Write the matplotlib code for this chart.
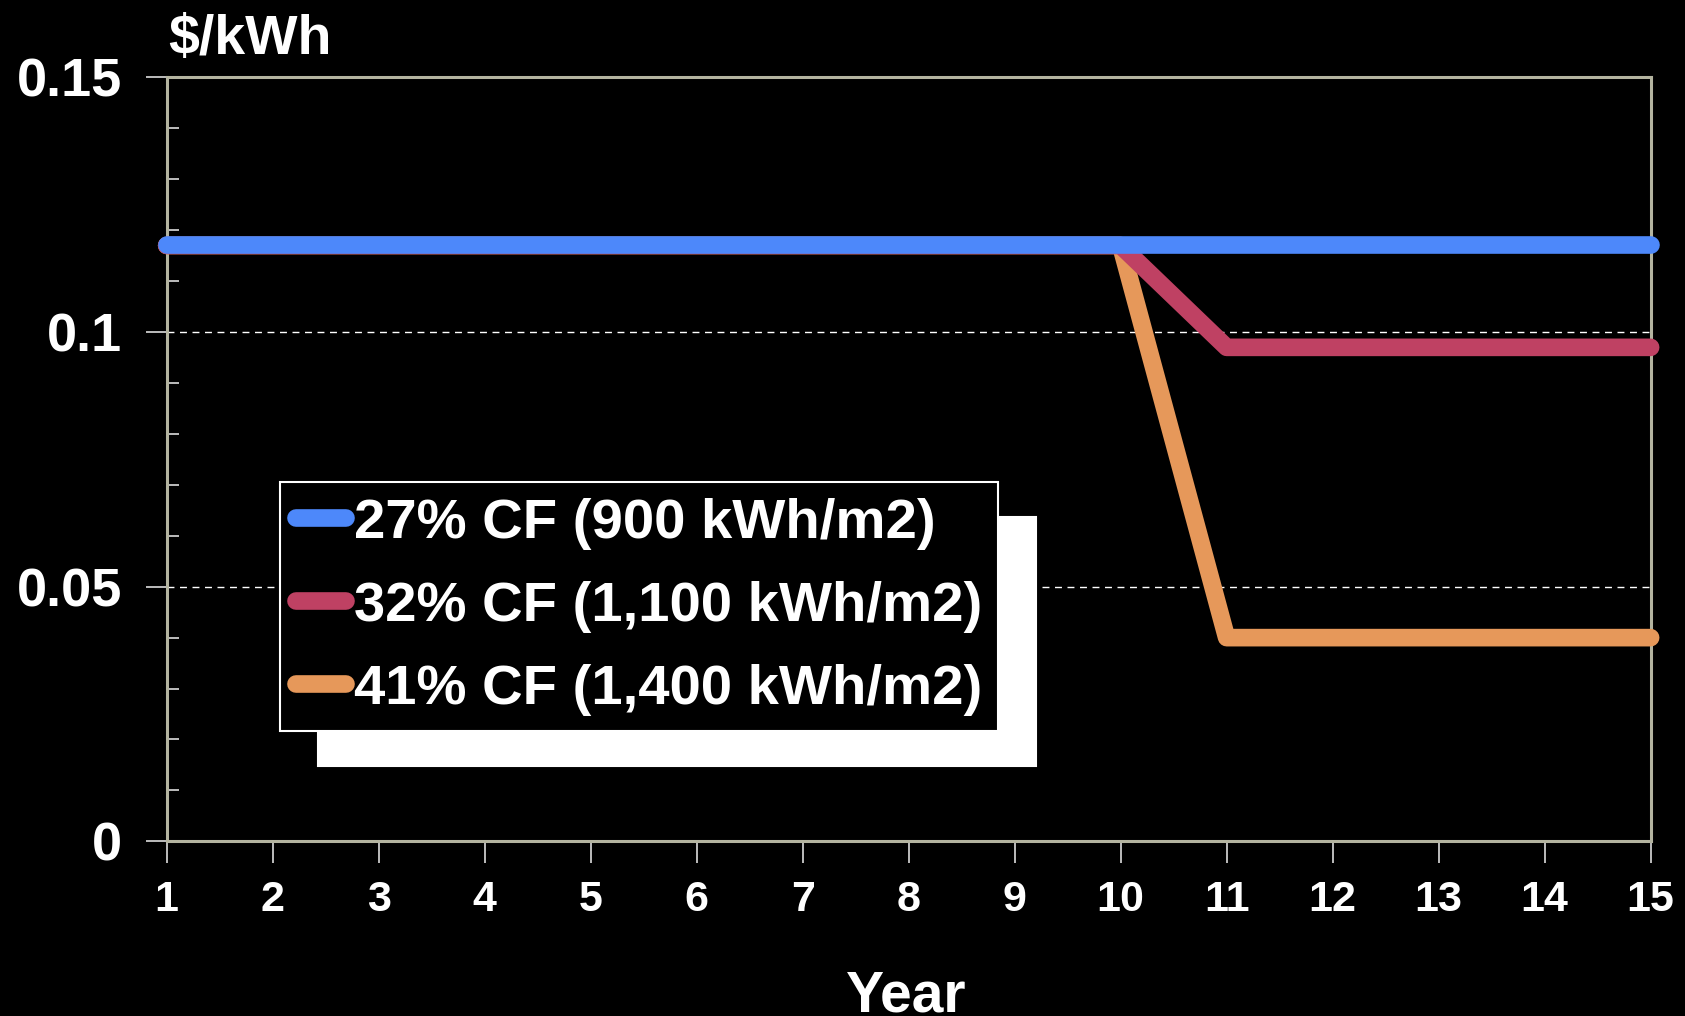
import matplotlib
matplotlib.use('Agg')
import matplotlib.pyplot as plt
from matplotlib.ticker import FuncFormatter, MultipleLocator

plt.rcParams['font.family'] = ['Liberation Sans', 'DejaVu Sans']
plt.rcParams['font.weight'] = 'bold'

years = list(range(1, 16))
cf27 = [0.117] * 15
cf32 = [0.117] * 10 + [0.097] * 5
cf41 = [0.117] * 10 + [0.040] * 5
labels = ['27% CF (900 kWh/m2)', '32% CF (1,100 kWh/m2)', '41% CF (1,400 kWh/m2)']
colors = ['#4D88FA', '#BF4163', '#E6985A']

fig = plt.figure(figsize=(16.85, 10.16), dpi=100, facecolor='black')
ax = fig.add_axes([0.0989, 0.1719, 0.8807, 0.7519], facecolor='black')

# draw orange first so blue sits on top of the shared flat part
line_kw = dict(lw=12.7, solid_capstyle='round', solid_joinstyle='round', clip_on=False)
l41, = ax.plot(years, cf41, color=colors[2], zorder=3, **line_kw)
l32, = ax.plot(years, cf32, color=colors[1], zorder=4, **line_kw)
l27, = ax.plot(years, cf27, color=colors[0], zorder=5, **line_kw)

ax.set_xlim(1, 15)
ax.set_ylim(0, 0.15)
ax.set_xticks(years)
ax.set_yticks([0, 0.05, 0.1, 0.15])
ax.yaxis.set_minor_locator(MultipleLocator(0.01))
ax.yaxis.set_major_formatter(FuncFormatter(lambda v, p: f'{v:g}'))

for s in ax.spines.values():
    s.set_color('#B4B4A0')
    s.set_linewidth(2.2)

ax.tick_params(axis='y', which='major', direction='out', length=15, width=1.2,
               color='#DDDDDD', labelsize=39, labelcolor='white', pad=17)
ax.tick_params(axis='y', which='minor', direction='in', length=8.5, width=1.2,
               color='#DDDDDD')
ax.tick_params(axis='x', direction='out', length=16, width=1.2,
               color='#DDDDDD', labelsize=31, labelcolor='white', pad=12)

ax.yaxis.grid(True, which='major', color='white', linestyle=(0, (5, 4)), lw=1)
ax.set_axisbelow(True)

fig.text(0.100, 0.947, r'\$/kWh', color='white', fontsize=40, fontweight='bold',
         ha='left', va='baseline')
fig.text(0.538, 0.046, 'Year', color='white', fontsize=41, fontweight='bold',
         ha='center', va='top')

leg = ax.legend([l27, l32, l41], labels, loc='upper left',
                bbox_to_anchor=(0.0764, 0.4704), borderaxespad=0,
                fontsize=40.5, frameon=True, fancybox=False,
                facecolor='black', edgecolor='white', framealpha=1,
                labelcolor='white', handlelength=0.89, handletextpad=0.15,
                labelspacing=0.55, borderpad=0.28,
                shadow={'color': 'white', 'alpha': 1, 'ox': 27, 'oy': -25})
leg.get_frame().set_linewidth(1.5)
leg.set_zorder(10)

fig.savefig('out.png', dpi=100, facecolor='black')
